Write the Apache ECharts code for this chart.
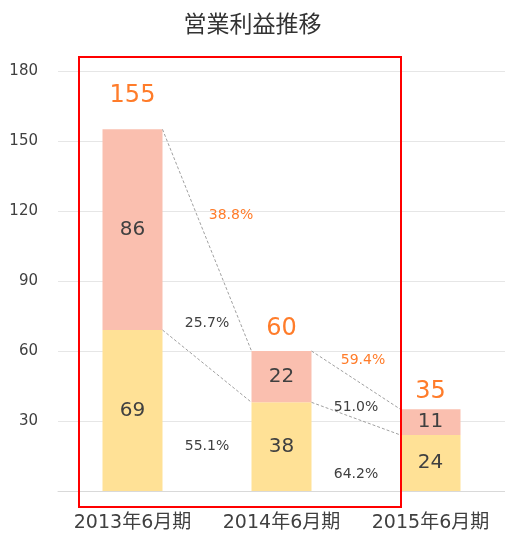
<!DOCTYPE html>
<html>
<head>
<meta charset="utf-8">
<script src="https://cdn.jsdelivr.net/npm/echarts@6/dist/echarts.min.js"></script>
<style>
  html, body { margin: 0; padding: 0; background: #fff; }
  #chart { width: 505px; height: 534px; }
</style>
</head>
<body>
<div id="chart"></div>
<script>
// データ
const categories = ['2013年6月期', '2014年6月期', '2015年6月期'];
const lowerValues = [69, 38, 24];
const upperValues = [86, 22, 11];
const totalValues = [155, 60, 35];
const yTicks = [0, 30, 60, 90, 120, 150, 180];
// 増減率ラベル（期間ごと）
const pctTotal = ['38.8%', '59.4%'];
const pctUpper = ['25.7%', '51.0%'];
const pctLower = ['55.1%', '64.2%'];

// レイアウト
const FONT = '"DejaVu Sans", "Noto Sans CJK JP", sans-serif';
const textColor = '#404040';
const orange = '#FF7C2A';
const barW = 60;
const totalDist = [22, 10, 6];          // 合計ラベルの距離
const pctTotalY = [118, 56];             // 値軸上の位置
const pctTotalDx = [24, 7];
const pctUpperY = [72, 36];
const pctLowerY = [19, 7];

const chart = echarts.init(document.getElementById('chart'));

const connectData = [];
for (let i = 0; i < categories.length - 1; i++) {
  connectData.push([i, totalValues[i], totalValues[i + 1], lowerValues[i], lowerValues[i + 1]]);
}

function renderConnect(params, api) {
  const i = api.value(0);
  const a1 = api.coord([i, api.value(1)]);
  const a2 = api.coord([i + 1, api.value(2)]);
  const b1 = api.coord([i, api.value(3)]);
  const b2 = api.coord([i + 1, api.value(4)]);
  const x1 = a1[0] + barW / 2, x2 = a2[0] - barW / 2;
  const mid = (x1 + x2) / 2;
  const lineStyle = { stroke: '#a0a0a0', lineWidth: 1, lineDash: [3, 2] };
  const txt = (x, v, s, c) => ({
    type: 'text',
    style: {
      x: x, y: api.coord([i, v])[1], text: s, fill: c,
      font: '14px ' + FONT, align: 'center', verticalAlign: 'middle'
    }
  });
  return {
    type: 'group',
    children: [
      { type: 'line', shape: { x1: x1, y1: a1[1], x2: x2, y2: a2[1] }, style: lineStyle },
      { type: 'line', shape: { x1: x1, y1: b1[1], x2: x2, y2: b2[1] }, style: lineStyle },
      txt(mid + pctTotalDx[i], pctTotalY[i], pctTotal[i], orange),
      txt(mid, pctUpperY[i], pctUpper[i], textColor),
      txt(mid, pctLowerY[i], pctLower[i], textColor)
    ]
  };
}

const option = {
  animation: false,
  textStyle: { fontFamily: FONT },
  title: {
    text: '営業利益推移',
    left: 'center',
    top: 10,
    textStyle: { fontSize: 23, fontWeight: 'normal', color: '#333', fontFamily: FONT }
  },
  grid: { left: 58, top: 71, width: 450, bottom: 43 },
  xAxis: {
    type: 'category',
    data: categories,
    axisTick: { show: false },
    axisLine: { lineStyle: { color: '#d9d9d9' } },
    axisLabel: { color: textColor, fontSize: 19, margin: 23, interval: 0, fontFamily: FONT }
  },
  yAxis: {
    type: 'value',
    min: yTicks[0],
    max: yTicks[yTicks.length - 1],
    interval: 30,
    axisLine: { show: false },
    axisTick: { show: false },
    splitLine: { lineStyle: { color: '#e6e6e6' } },
    axisLabel: {
      color: textColor, fontSize: 15, margin: 20, fontFamily: FONT,
      formatter: v => (v === 0 ? '' : String(v))
    }
  },
  series: [
    {
      type: 'bar',
      stack: 'total',
      barWidth: barW,
      data: lowerValues,
      itemStyle: { color: '#FFE196' },
      label: { show: true, position: 'inside', color: textColor, fontSize: 20, fontFamily: FONT }
    },
    {
      type: 'bar',
      stack: 'total',
      barWidth: barW,
      data: upperValues.map((v, i) => ({
        value: v,
        label: {
          show: true,
          position: 'top',
          distance: totalDist[i],
          formatter: String(totalValues[i]),
          color: orange,
          fontSize: 24,
          fontFamily: FONT
        }
      })),
      itemStyle: { color: '#FABFAF' }
    },
    {
      // 上段の値ラベル（内側）
      type: 'bar',
      stack: 'labels',
      barWidth: barW,
      barGap: '-100%',
      data: lowerValues,
      itemStyle: { color: 'transparent' },
      silent: true
    },
    {
      type: 'bar',
      stack: 'labels',
      barWidth: barW,
      barGap: '-100%',
      data: upperValues,
      itemStyle: { color: 'transparent' },
      label: { show: true, position: 'inside', color: textColor, fontSize: 20, fontFamily: FONT },
      silent: true
    },
    {
      type: 'custom',
      renderItem: renderConnect,
      data: connectData,
      z: 5,
      silent: true
    }
  ],
  graphic: [
    {
      type: 'rect',
      shape: { x: 79, y: 57, width: 322, height: 450 },
      style: { fill: 'none', stroke: '#FF0000', lineWidth: 2 },
      z: 10
    }
  ]
};

chart.setOption(option);
</script>
</body>
</html>
